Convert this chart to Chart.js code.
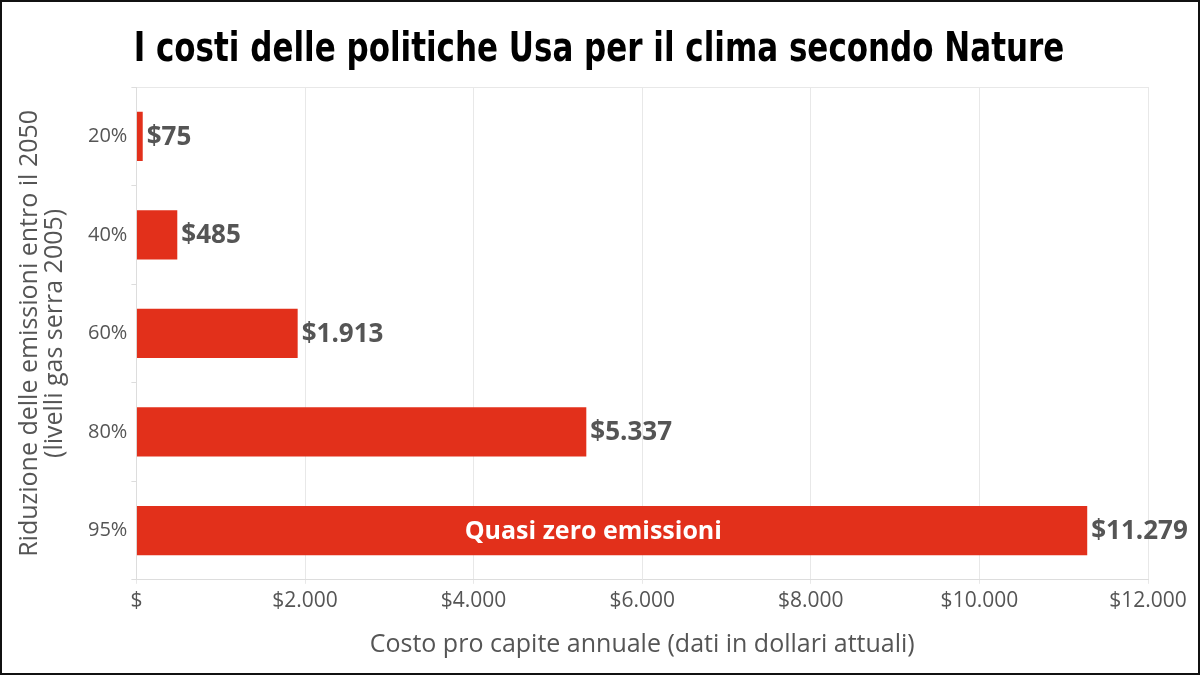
<!DOCTYPE html>
<html>
<head>
<meta charset="utf-8">
<script src="https://cdn.jsdelivr.net/npm/chart.js@4.4.0/dist/chart.umd.min.js"></script>
<style>
  html, body { margin: 0; padding: 0; background: #fff; }
  #wrap { position: relative; width: 1200px; height: 675px; box-sizing: border-box; border: 2px solid #111; }
</style>
</head>
<body>
<div id="wrap"><canvas id="costChart" width="1196" height="671"></canvas></div>
<script>
// --- DATA ---
const categories = ['20%', '40%', '60%', '80%', '95%'];
const costPerCapita = [75, 485, 1913, 5337, 11279];
const xTicks = [0, 2000, 4000, 6000, 8000, 10000, 12000];
const chartTitle = 'I costi delle politiche Usa per il clima secondo Nature';
const barNote = 'Quasi zero emissioni';

// Italian style thousands separator, "$" alone for zero
function money(v) {
    if (v === 0) return '$';
    return '$' + String(v).replace(/\B(?=(\d{3})+(?!\d))/g, '.');
}

const FONT = "'Open Sans', 'Noto Sans', sans-serif";
const GREY = '#555555';
const RED = '#e2301b';

// title drawn a bit condensed, like the original headline face
const headline = {
    id: 'headline',
    afterDraw(chart) {
        const ctx = chart.ctx;
        ctx.save();
        ctx.font = "bold 41px 'DejaVu Sans Condensed', 'DejaVu Sans', sans-serif";
        ctx.fillStyle = '#000';
        ctx.textAlign = 'center';
        ctx.textBaseline = 'alphabetic';
        ctx.translate(chart.width / 2 - 1, 59);
        ctx.scale(0.84, 1);
        ctx.fillText(chartTitle, 0, 0);
        ctx.restore();
    }
};

// draws the value at the end of each bar + the note inside the last bar
const barLabels = {
    id: 'barLabels',
    afterDatasetsDraw(chart) {
        const ctx = chart.ctx;
        const meta = chart.getDatasetMeta(0);
        ctx.save();
        ctx.textBaseline = 'middle';
        meta.data.forEach((bar, i) => {
            ctx.font = 'bold 26px ' + FONT;
            ctx.fillStyle = GREY;
            ctx.textAlign = 'left';
            ctx.fillText(money(costPerCapita[i]), bar.x + 4, bar.y + 1);
        });
        // note inside the 95% bar
        const last = meta.data[meta.data.length - 1];
        ctx.font = 'bold 25px ' + FONT;
        ctx.fillStyle = '#ffffff';
        ctx.textAlign = 'center';
        ctx.fillText(barNote, chart.scales.x.getPixelForValue(5420), last.y + 1);
        ctx.restore();
    }
};

new Chart(document.getElementById('costChart').getContext('2d'), {
    type: 'bar',
    data: {
        labels: categories,
        datasets: [{
            data: costPerCapita,
            backgroundColor: RED,
            borderWidth: 0,
            categoryPercentage: 1,
            barPercentage: 0.5
        }]
    },
    options: {
        indexAxis: 'y',
        responsive: false,
        animation: false,
        layout: { padding: { left: 11, right: 50, top: 85, bottom: 9 } },
        scales: {
            x: {
                min: 0,
                max: 12000,
                afterBuildTicks: axis => { axis.ticks = xTicks.map(v => ({ value: v })); },
                grid: { color: '#e8e8e8', tickLength: 4, drawTicks: true },
                border: { color: '#dddddd' },
                ticks: {
                    color: GREY,
                    font: { family: FONT, size: 21 },
                    padding: 5,
                    callback: v => money(v)
                },
                title: {
                    display: true,
                    text: 'Costo pro capite annuale (dati in dollari attuali)',
                    color: GREY,
                    font: { family: FONT, size: 25 },
                    padding: { top: 11 }
                }
            },
            y: {
                grid: {
                    // only the outer boundary lines span the plot
                    color: c => (c.index === 0 || c.index === categories.length) ? '#e8e8e8' : 'rgba(0,0,0,0)',
                    tickColor: '#dddddd',
                    tickLength: 5
                },
                border: { color: '#dddddd' },
                ticks: {
                    color: GREY,
                    font: { family: FONT, size: 20 },
                    padding: 4
                },
                title: {
                    display: true,
                    text: ['Riduzione delle emissioni entro il 2050', '(livelli gas serra 2005)'],
                    color: GREY,
                    font: { family: FONT, size: 25, lineHeight: 1.0 },
                    padding: { bottom: 17 }
                }
            }
        },
        plugins: {
            legend: { display: false },
            tooltip: { enabled: false },
            title: { display: false }
        }
    },
    plugins: [barLabels, headline]
});
</script>
</body>
</html>
